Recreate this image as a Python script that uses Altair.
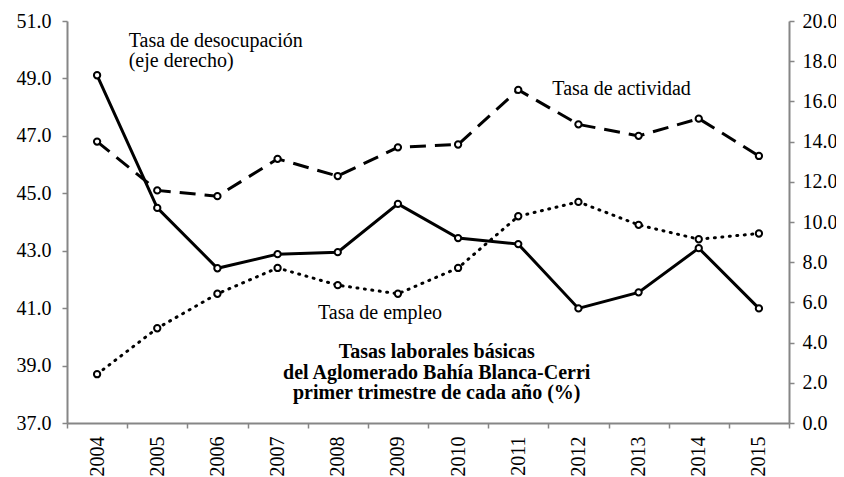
import altair as alt
import pandas as pd

# ---- data ----
years = [2004, 2005, 2006, 2007, 2008, 2009, 2010, 2011, 2012, 2013, 2014, 2015]
actividad = [46.8, 45.1, 44.9, 46.2, 45.6, 46.6, 46.7, 48.6, 47.4, 47.0, 47.6, 46.3]
empleo = [38.7, 40.3, 41.5, 42.4, 41.8, 41.5, 42.4, 44.2, 44.7, 43.9, 43.4, 43.6]
desocupacion = [17.3, 10.7, 7.7, 8.4, 8.5, 10.9, 9.2, 8.9, 5.7, 6.5, 8.7, 5.7]

left_ticks = [37, 39, 41, 43, 45, 47, 49, 51]
right_ticks = [0, 2, 4, 6, 8, 10, 12, 14, 16, 18, 20]

# annotations: text, anchor year, anchor value (left axis)
ann_text = ["Tasa de desocupación\n(eje derecho)", "Tasa de actividad", "Tasa de empleo",
            "Tasas laborales básicas\ndel Aglomerado Bahía Blanca-Cerri\nprimer trimestre de cada año (%)"]
ann_year = [2004, 2012, 2008, 2009]
ann_value = [50.1, 48.42, 40.62, 39.26]

FONT = "Liberation Serif"

df = pd.DataFrame({"year": years, "actividad": actividad, "empleo": empleo,
                   "desocupacion": desocupacion})

xenc = alt.X("year:O",
             scale=alt.Scale(type="band", paddingInner=0, paddingOuter=0),
             bandPosition=0.5,
             axis=alt.Axis(title=None, labelAngle=-90, tickBand="extent",
                           labelPadding=8, labelFontSize=20))

yleft_scale = alt.Scale(domain=[37, 51], nice=False, zero=False)
yleft_axis = alt.Axis(title=None, values=left_ticks, format=".1f", labelPadding=11)

base = alt.Chart(df)

act_line = base.mark_line(color="black", strokeWidth=3, strokeDash=[16, 9]).encode(
    x=xenc, y=alt.Y("actividad:Q", scale=yleft_scale, axis=yleft_axis))
emp_line = base.mark_line(color="black", strokeWidth=3, strokeDash=[1, 6.5],
                          strokeCap="round").encode(
    x=xenc, y=alt.Y("empleo:Q", scale=yleft_scale, axis=yleft_axis))

pt = dict(shape="circle", filled=True, fill="white", stroke="black",
          strokeWidth=2, size=40, opacity=1)
act_pts = base.mark_point(**pt).encode(
    x=xenc, y=alt.Y("actividad:Q", scale=yleft_scale, axis=yleft_axis))
emp_pts = base.mark_point(**pt).encode(
    x=xenc, y=alt.Y("empleo:Q", scale=yleft_scale, axis=yleft_axis))

texts = []
dxs = [31.6, -26.1, -19.8, 38.8]
for i in range(4):
    tdf = pd.DataFrame({"year": [ann_year[i]], "v": [ann_value[i]], "t": [ann_text[i]]})
    bold = i == 3
    texts.append(
        alt.Chart(tdf).mark_text(
            font=FONT, fontSize=20, fontWeight="bold" if bold else "normal",
            align="center" if bold else "left", baseline="alphabetic",
            lineBreak="\n", lineHeight=20.5 if bold else 20, dx=dxs[i], color="black"
        ).encode(x=xenc, y=alt.Y("v:Q", scale=yleft_scale, axis=yleft_axis), text="t:N")
    )

left = alt.layer(act_line, emp_line, act_pts, emp_pts, *texts)

yright_scale = alt.Scale(domain=[0, 20], nice=False, zero=True)
yright_axis = alt.Axis(title=None, orient="right", values=right_ticks, format=".1f",
                       labelPadding=8)
des_line = base.mark_line(color="black", strokeWidth=3).encode(
    x=xenc, y=alt.Y("desocupacion:Q", scale=yright_scale, axis=yright_axis))
des_pts = base.mark_point(**pt).encode(
    x=xenc, y=alt.Y("desocupacion:Q", scale=yright_scale, axis=yright_axis))
right = alt.layer(des_line, des_pts)

chart = alt.layer(left, right).resolve_scale(y="independent").properties(
    width=722, height=402,
    autosize=alt.AutoSizeParams(type="none"),
    padding={"left": 59, "top": 13, "right": 47, "bottom": 54},
    background="white",
).configure_view(stroke=None).configure_axis(
    labelFont=FONT, labelFontSize=20, labelColor="black",
    domainColor="#868686", domainWidth=2,
    tickColor="#868686", tickWidth=1.5, tickSize=5, grid=False,
)

chart.save("out.html", embed_options={"renderer": "svg", "actions": False})
